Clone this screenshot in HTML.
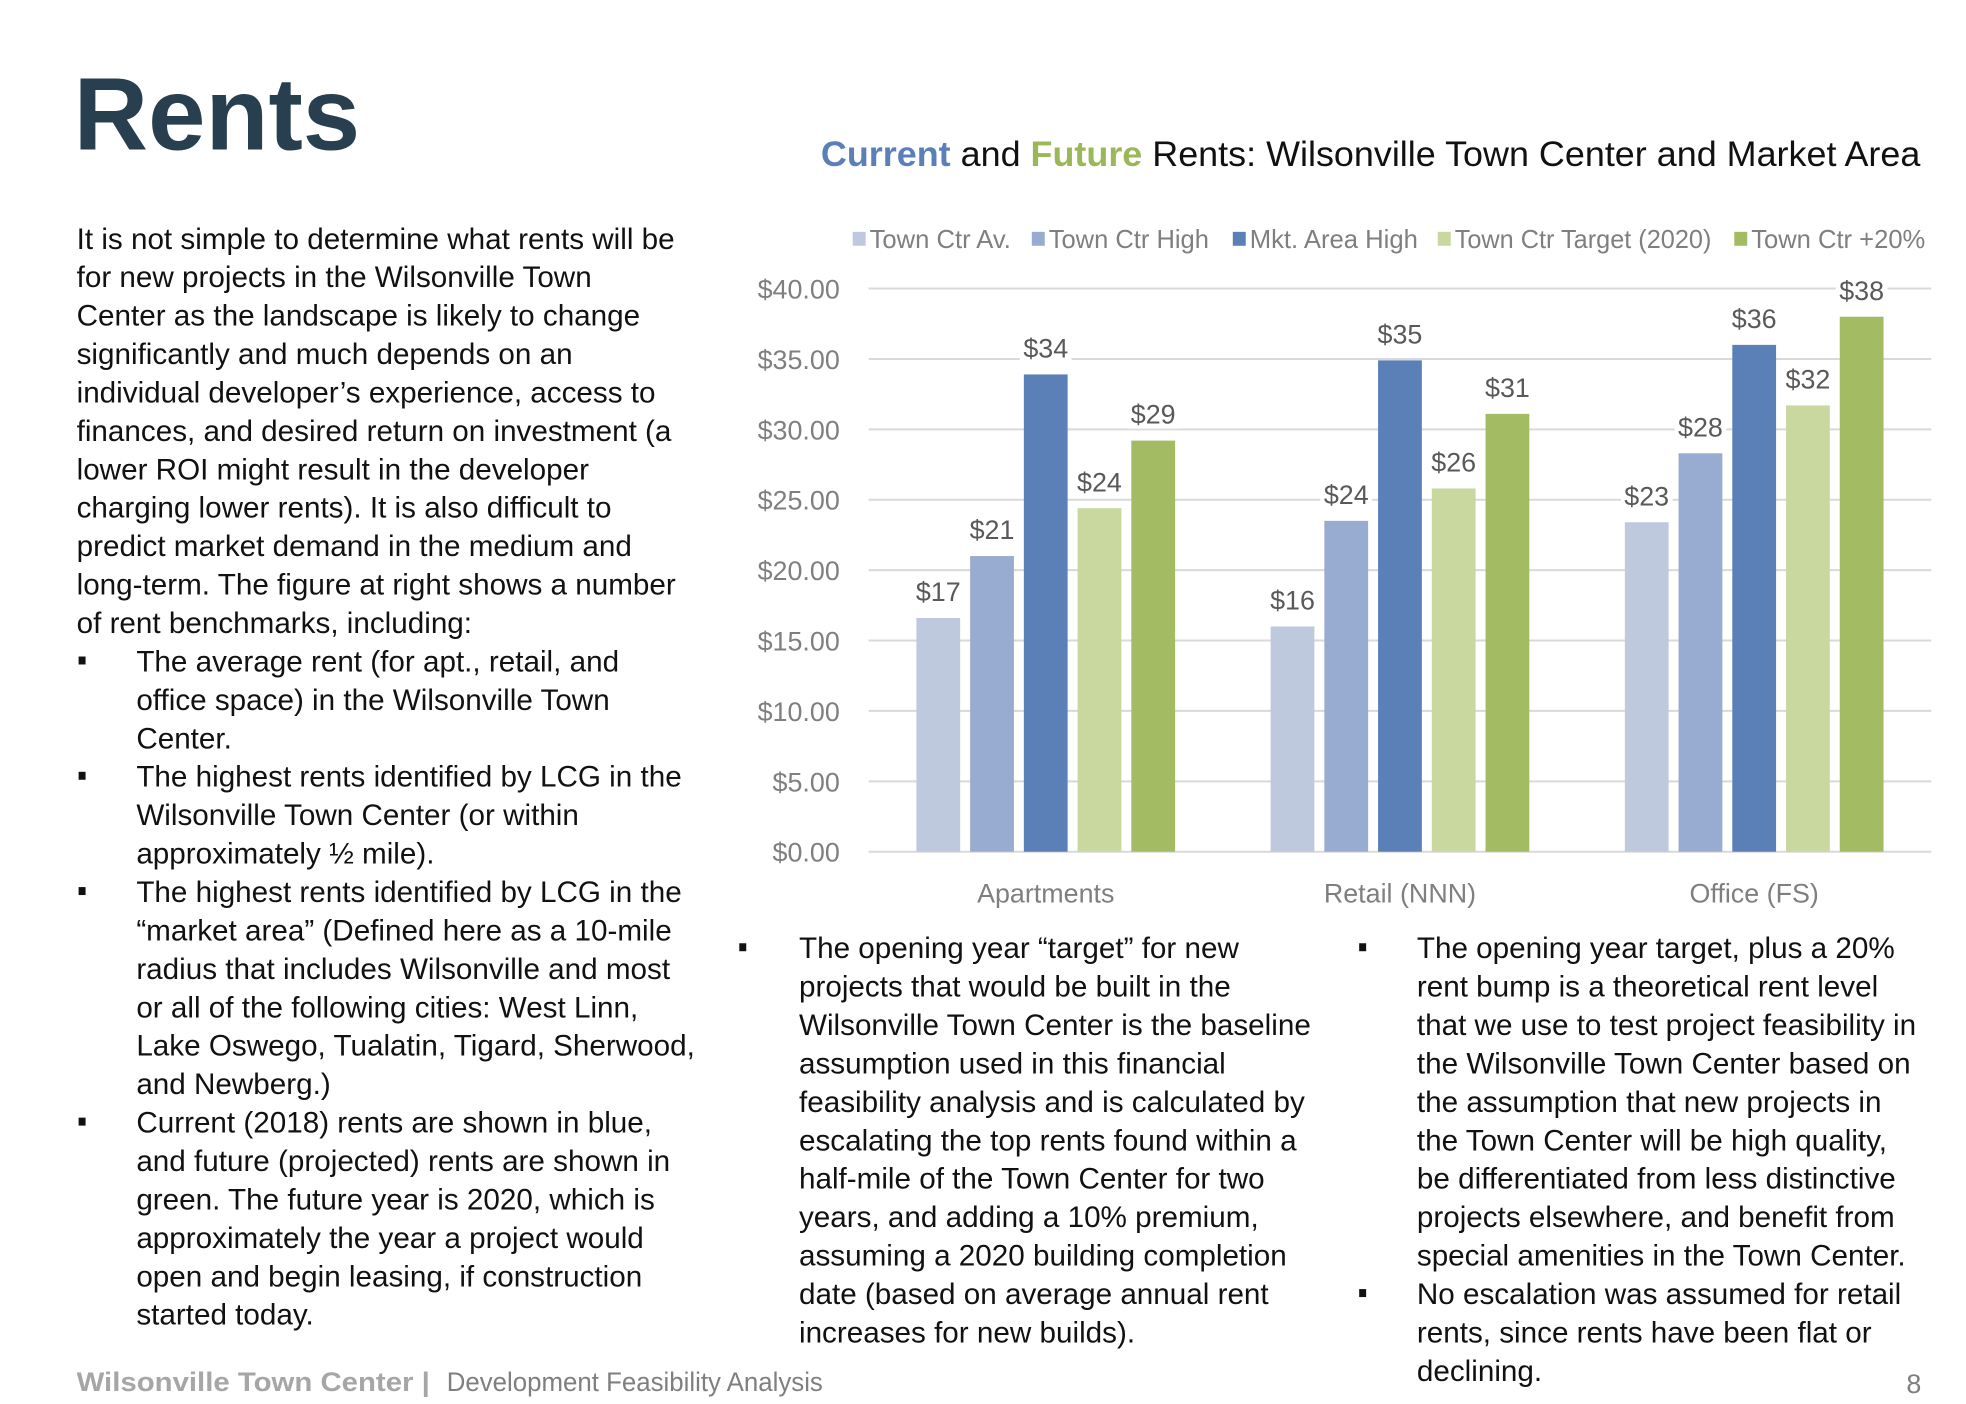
<!DOCTYPE html>
<html><head><meta charset="utf-8"><style>
html,body{margin:0;padding:0;background:#fff;width:1966px;height:1404px;overflow:hidden}
svg{display:block}
.b{font-family:"Liberation Sans",sans-serif;font-size:29.8px;fill:#111}
</style></head><body>
<svg id="pg" width="1966" height="1404" viewBox="0 0 1966 1404" xmlns="http://www.w3.org/2000/svg">
<g transform="scale(0.995)">
<text x="74" y="150" font-family="Liberation Sans,sans-serif" font-weight="bold" font-size="104" fill="#283f4f" textLength="288" lengthAdjust="spacingAndGlyphs">Rents</text>
<text x="825" y="167" font-family="Liberation Sans,sans-serif" font-size="35" fill="#111" textLength="1105" lengthAdjust="spacingAndGlyphs"><tspan font-weight="bold" fill="#5b7fb8">Current</tspan> and <tspan font-weight="bold" fill="#9bb858">Future</tspan> Rents: Wilsonville Town Center and Market Area</text>
<g id="left" class="b"></g>
<g id="mid" class="b"></g>
<g id="right" class="b"></g>
<g id="chart"></g>
<text x="77" y="1398" font-family="Liberation Sans,sans-serif" font-weight="bold" font-size="27" fill="#a6a6a6" textLength="355" lengthAdjust="spacingAndGlyphs">Wilsonville Town Center |</text>
<text x="449" y="1398" font-family="Liberation Sans,sans-serif" font-size="27" fill="#7f7f7f" textLength="378" lengthAdjust="spacingAndGlyphs">Development Feasibility Analysis</text>
<text x="1916" y="1400" font-family="Liberation Sans,sans-serif" font-size="27" fill="#7f7f7f">8</text>
</g>
</svg>
<script>
var NS='http://www.w3.org/2000/svg';
function mk(tag,attrs,parent){var e=document.createElementNS(NS,tag);for(var k in attrs)e.setAttribute(k,attrs[k]);parent.appendChild(e);return e;}
var leftLines=[
[0,"It is not simple to determine what rents will be"],[0,"for new projects in the Wilsonville Town"],[0,"Center as the landscape is likely to change"],[0,"significantly and much depends on an"],[0,"individual developer\u2019s experience, access to"],[0,"finances, and desired return on investment (a"],[0,"lower ROI might result in the developer"],[0,"charging lower rents). It is also difficult to"],[0,"predict market demand in the medium and"],[0,"long-term. The figure at right shows a number"],[0,"of rent benchmarks, including:"],
[2,"The average rent (for apt., retail, and"],[1,"office space) in the Wilsonville Town"],[1,"Center."],
[2,"The highest rents identified by LCG in the"],[1,"Wilsonville Town Center (or within"],[1,"approximately \u00bd mile)."],
[2,"The highest rents identified by LCG in the"],[1,"\u201cmarket area\u201d (Defined here as a 10-mile"],[1,"radius that includes Wilsonville and most"],[1,"or all of the following cities: West Linn,"],[1,"Lake Oswego, Tualatin, Tigard, Sherwood,"],[1,"and Newberg.)"],
[2,"Current (2018) rents are shown in blue,"],[1,"and future (projected) rents are shown in"],[1,"green. The future year is 2020, which is"],[1,"approximately the year a project would"],[1,"open and begin leasing, if construction"],[1,"started today."]];
var midLines=[[2,"The opening year \u201ctarget\u201d for new"],[1,"projects that would be built in the"],[1,"Wilsonville Town Center is the baseline"],[1,"assumption used in this financial"],[1,"feasibility analysis and is calculated by"],[1,"escalating the top rents found within a"],[1,"half-mile of the Town Center for two"],[1,"years, and adding a 10% premium,"],[1,"assuming a 2020 building completion"],[1,"date (based on average annual rent"],[1,"increases for new builds)."]];
var rightLines=[[2,"The opening year target, plus a 20%"],[1,"rent bump is a theoretical rent level"],[1,"that we use to test project feasibility in"],[1,"the Wilsonville Town Center based on"],[1,"the assumption that new projects in"],[1,"the Town Center will be high quality,"],[1,"be differentiated from less distinctive"],[1,"projects elsewhere, and benefit from"],[1,"special amenities in the Town Center."],[2,"No escalation was assumed for retail"],[1,"rents, since rents have been flat or"],[1,"declining."]];
function col(id,lines,x0,bx,tx,y0){var g=document.getElementById(id);lines.forEach(function(l,i){var y=y0+i*38.62;
 if(l[0]==2){var r=mk('rect',{x:bx,y:y-15,width:7,height:8,fill:'#111'},g);
 
 }
 var t=mk('text',{x:l[0]?tx:x0,y:y},g);t.textContent=l[1];
 
 });}
col('left',leftLines,77,79,137,250);
col('mid',midLines,803,743,803,963);
col('right',rightLines,1424,1366,1424,963);

// ---- chart data ----
var categories=["Apartments","Retail (NNN)","Office (FS)"];
var seriesNames=["Town Ctr Av.","Town Ctr High","Mkt. Area High","Town Ctr Target (2020)","Town Ctr +20%"];
var townCtrAv=[16.6,16.0,23.4];
var townCtrHigh=[21.0,23.5,28.3];
var mktAreaHigh=[33.9,34.9,36.0];
var townCtrTarget=[24.4,25.8,31.7];
var townCtrPlus20=[29.2,31.1,38.0];
var yTicks=[0,5,10,15,20,25,30,35,40];
var yTickLabels=["$0.00","$5.00","$10.00","$15.00","$20.00","$25.00","$30.00","$35.00","$40.00"];

var colors=["#bec9de","#98abd0","#5b80b8","#c8d89f","#a3bb63"];
var series=[townCtrAv,townCtrHigh,mktAreaHigh,townCtrTarget,townCtrPlus20];
var C=document.getElementById('chart');
var L=873,R=1941,Y0=856,Y40=290;
function ys(v){return Y0-(v/40)*(Y0-Y40);}
function xc(i){return L+(i+0.5)*(R-L)/categories.length;}
var F='Liberation Sans,sans-serif';
yTicks.forEach(function(v,i){
 var ln=mk('line',{x1:L,x2:R,y1:ys(v),y2:ys(v),stroke:'#d9d9d9','stroke-width':2},C);
 
 
 var t=mk('text',{x:844,y:ys(v)+10,'text-anchor':'end','font-family':F,'font-size':27,fill:'#7f7f7f'},C);t.textContent=yTickLabels[i];
 
 
});
var bw=44,pitch=54;
categories.forEach(function(c,i){
 var t=mk('text',{x:xc(i),y:907,'text-anchor':'middle','font-family':F,'font-size':27,fill:'#7f7f7f'},C);t.textContent=c;
 
 
 series.forEach(function(s,j){
  var x=xc(i)+(j-2)*pitch-bw/2,top=ys(s[i]);
  var r=mk('rect',{x:x,y:top,width:bw,height:Y0-top,fill:colors[j]},C);
  
  
  var lab='$'+Math.round(s[i]);
  var bg=mk('rect',{x:x+bw/2-26,y:top-44,width:52,height:32,fill:'#fff'},C);
  
  
  var tl=mk('text',{x:x+bw/2,y:top-17,'text-anchor':'middle','font-family':F,'font-size':27,fill:'#595959'},C);tl.textContent=lab;
  
  
 });
});
var legX=[857,1037,1239,1445,1743],legW=[142,161,169,258,175];
seriesNames.forEach(function(n,j){
 var r=mk('rect',{x:legX[j],y:233,width:13,height:14,fill:colors[j]},C);
 
 
 var t=mk('text',{x:legX[j]+17,y:249,'font-family':F,'font-size':26,fill:'#7f7f7f',textLength:legW[j],lengthAdjust:'spacingAndGlyphs'},C);t.textContent=n;
 
 
});
</script>
</body></html>
